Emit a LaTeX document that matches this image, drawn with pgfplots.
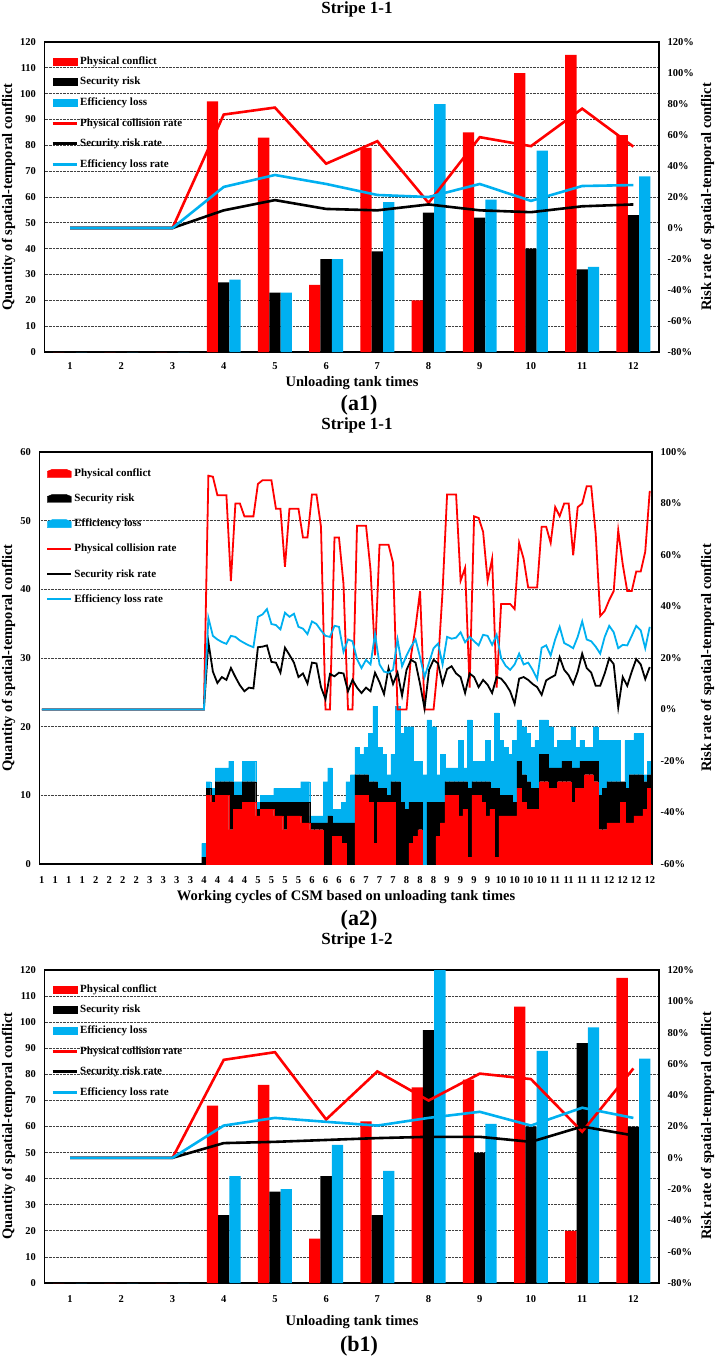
\documentclass[border=0pt]{standalone}
\usepackage{pgfplots}
\pgfplotsset{compat=1.18}
\usepackage{pgfplotstable}
\usepackage{fontspec}
\setmainfont{Liberation Serif}

\definecolor{confRed}{HTML}{FF0000}
\definecolor{lossBlue}{HTML}{00B0F0}

\newcommand{\tickfont}{\fontsize{10.5bp}{12bp}\selectfont\bfseries}
\newcommand{\legfont}{\fontsize{11bp}{13bp}\selectfont\bfseries}
\newcommand{\labfont}{\fontsize{14.5bp}{16bp}\selectfont\bfseries}
\newcommand{\titfont}{\fontsize{17bp}{19bp}\selectfont\bfseries}
\newcommand{\tagfont}{\fontsize{22bp}{24bp}\selectfont\bfseries}

% Stripe 1-1, per unloading tank: counts and rates (%)
\pgfplotstableread{
t  phys sec eff pr    sr    er
1  0    0   0   0     0     0
2  0    0   0   0     0     0
3  0    0   0   0     0     0
4  97   27  28  73.2  11.4  26.5
5  83   23  23  77.7  18.0  34.2
6  26   36  36  41.5  12.3  28.4
7  79   39  58  56.0  11.4  21.3
8  20   54  96  16.2  15.2  20.0
9  85   52  59  58.6  11.4  28.4
10 108  40  78  52.8  10.2  17.5
11 115  32  33  77.0  14.0  27.1
12 84   53  68  52.5  15.2  27.7
}\stripeAtank

% Stripe 1-2, per unloading tank: counts and rates (%)
\pgfplotstableread{
t  phys sec eff pr    sr    er
1  0    0   0   0     0     0
2  0    0   0   0     0     0
3  0    0   0   0     0     0
4  68   26  41  62.6  9.4   20.6
5  76   35  36  67.5  10.2  25.5
6  17   41  53  24.5  11.4  23.0
7  62   26  43  55.2  12.6  20.6
8  75   97  120 36.6  13.4  25.5
9  78   50  61  53.8  13.4  29.4
10 106  60  89  50.3  10.2  20.6
11 20   92  98  16.7  20.0  32.0
12 117  60  86  57.1  14.3  25.5
}\stripeBtank

% Stripe 1-1, per working cycle of the CSM: counts and rates (%)
\pgfplotstableread{
c   phys sec eff pr   sr   er
0   0  0  0  0    0    0
1   0  0  0  0    0    0
2   0  0  0  0    0    0
3   0  0  0  0    0    0
4   0  0  0  0    0    0
5   0  0  0  0    0    0
6   0  0  0  0    0    0
7   0  0  0  0    0    0
8   0  0  0  0    0    0
9   0  0  0  0    0    0
10  0  0  0  0    0    0
11  0  0  0  0    0    0
12  0  0  0  0    0    0
13  0  0  0  0    0    0
14  0  0  0  0    0    0
15  0  0  0  0    0    0
16  0  0  0  0    0    0
17  0  0  0  0    0    0
18  0  0  0  0    0    0
19  0  0  0  0    0    0
20  0  0  0  0    0    0
21  0  0  0  0    0    0
22  0  0  0  0    0    0
23  0  0  0  0    0    0
24  0  0  0  0    0    0
25  0  0  0  0    0    0
26  0  0  0  0    0    0
27  0  0  0  0    0    0
28  0  0  0  0    0    0
29  0  0  0  0    0    0
30  0  0  0  0    0    0
31  0  0  0  0    0    0
32  0  0  0  0    0    0
33  0  0  0  0    0    0
34  0  0  0  0    0    0
35  0  0  0  0    0    0
36  0  1  2  0    0    0
37  10 1  1  90.8 26.2 35.6
38  9  1  1  90.4 14.7 28.6
39  10 2  2  83.2 10.3 27.2
40  10 2  2  83.2 12.6 26.2
41  10 2  2  83.2 11.5 25.5
42  5  7  3  49.9 16.1 28.6
43  8  2  2  80.0 12.6 28.2
44  8  2  2  80.0 9.4  26.8
45  9  3  3  75.0 7.1  25.8
46  9  3  3  75.0 8.5  24.9
47  9  3  3  75.0 8.2  24.2
48  7  1  1  87.6 24.2 36.0
49  8  1  1  89.0 24.4 36.9
50  8  1  1  89.0 24.9 39.0
51  8  1  1  89.0 18.5 33.2
52  7  2  2  78.0 18.2 32.8
53  7  2  2  78.0 14.3 31.1
54  5  4  2  55.4 24.0 37.6
55  7  2  2  78.0 21.2 36.0
56  7  2  2  78.0 18.2 37.2
57  7  2  2  78.0 12.6 32.1
58  6  3  3  66.8 14.0 31.4
59  6  3  3  66.8 10.1 29.3
60  5  1  1  83.5 18.2 34.2
61  5  1  1  83.5 17.9 33.2
62  5  1  1  71.0 8.7  30.7
63  0  6  6  0    4.0  28.6
64  0  7  7  0    13.8 28.2
65  4  2  2  66.8 12.9 32.5
66  4  2  2  66.8 14.3 32.1
67  3  3  3  48.8 14.0 22.4
68  0  6  6  0    7.1  27.2
69  0  6  7  0    11.5 26.5
70  10 3  4  71.4 8.5  19.6
71  10 3  3  71.4 6.4  16.1
72  10 3  4  71.4 8.5  19.3
73  9  3  7  54.3 7.1  17.5
74  3  9  11 21.0 14.3 29.3
75  9  2  6  64.0 10.6 17.5
76  9  2  5  64.0 6.0  14.7
77  9  1  3  64.0 16.1 14.3
78  9  3  4  57.0 9.9  15.4
79  0  12 11 0    14.3 27.2
80  0  9  10 0    5.4  16.8
81  0  8  12 0    15.4 21.0
82  3  6  11 21.0 19.3 24.4
83  4  5  6  32.0 18.2 27.2
84  5  4  6  46.0 9.9  20.3
85  0  0  13 0    0.4  12.6
86  0  9  12 0    15.4 18.2
87  0  9  11 0    19.3 23.8
88  4  5  4  18.0 17.9 25.6
89  6  3  7  46.0 9.9  17.5
90  10 2  2  83.5 15.7 28.2
91  10 2  2  83.5 16.8 27.5
92  10 2  2  83.5 14.0 27.9
93  7  5  6  50.0 12.6 30.0
94  8  4  2  55.0 6.4  26.1
95  1  10 10 8.5  14.0 28.2
96  10 2  3  75.0 12.6 26.5
97  10 2  3  74.4 8.7  24.9
98  9  3  3  69.0 11.5 29.0
99  7  5  6  50.0 9.6  28.6
100 8  3  4  58.5 6.4  25.1
101 1  10 11 8.5  12.6 29.0
102 7  3  8  41.0 12.0 20.0
103 7  3  7  41.0 9.9  17.0
104 7  3  6  41.0 7.1  15.4
105 7  2  9  39.0 2.2  17.5
106 11 4  6  64.7 12.0 21.7
107 9  4  7  58.5 12.6 17.5
108 8  4  7  47.4 11.5 18.2
109 8  3  6  47.4 9.9  15.4
110 8  3  7  47.4 8.7  11.9
111 12 4  5  71.0 5.7  24.0
112 12 4  5  71.0 11.3 24.9
113 11 3  6  64.7 12.4 21.0
114 11 3  3  78.6 13.3 27.2
115 12 2  4  75.1 20.3 32.1
116 12 3  3  80.0 15.4 25.8
117 12 3  3  80.0 13.3 24.9
118 9  5  6  59.9 9.9  23.8
119 11 3  3  78.6 14.7 28.2
120 11 4  3  80.0 21.7 34.2
121 13 2  2  86.7 16.1 27.2
122 13 2  2  86.7 14.3 26.5
123 12 3  5  68.2 9.2  24.4
124 5  5  8  36.3 9.2  21.7
125 5  6  7  38.3 14.0 28.2
126 6  6  6  42.5 19.9 32.5
127 6  6  6  46.0 17.6 30.0
128 6  6  6  69.6 0.8  23.8
129 9  3  0  56.4 12.6 25.1
130 6  5  7  46.0 9.2  24.9
131 6  7  5  46.0 14.7 28.6
132 7  6  6  53.6 19.6 32.5
133 7  6  6  53.6 17.5 30.7
134 8  4  1  61.3 11.8 23.8
135 11 2  2  84.9 16.5 32.1
}\stripeAcycle

\pgfplotsset{
  basepanel/.style={
    scale only axis,
    axis line style={line width=1.5bp},
    major tick length=0pt,
    tick style={draw=none},
    tick label style={font=\tickfont},
    /pgf/number format/assume math mode=true,
  },
  countpanel/.style={
    basepanel,
    ymajorgrids,
    grid style={densely dotted, black!75, line width=0.7bp},
    yticklabel pos=left,
    xticklabel style={yshift=-7bp},
    yticklabel style={xshift=-5bp},
  },
  ratepanel/.style={
    basepanel,
    axis x line=none,
    axis y line*=right,
    yticklabel={\pgfmathprintnumber{\tick}\%},
    yticklabel style={anchor=west, xshift=5bp},
    legend cell align=left,
    legend image code/.code={\draw[##1, line width=\keyline] (0bp,0bp) -- (24bp,0bp);},
    legend style={draw=none, fill=none, font=\legfont, row sep=7.4bp,
      at={(axis description cs:0,1)}, anchor=north west,
      xshift=6.5bp, yshift=-12.5bp, inner sep=0pt},
  },
  barkey/.style={legend image code/.code={\fill[#1] (0bp,-3.5bp) rectangle (24bp,3.5bp);}},
  areakey/.style={legend image code/.code={\fill[#1] (0bp,-4bp) -- (0bp,2bp) -- (5bp,4bp) -- (19bp,4bp) -- (24bp,2bp) -- (24bp,-4bp) -- cycle;}},
}
\newcommand{\keyline}{3bp}

\begin{document}
\begin{tikzpicture}
\path[use as bounding box] (0bp,0bp) rectangle (716bp,-1371bp);

% ---------------- (a1) ----------------
\begin{axis}[countpanel, at={(44.5bp,-42bp)}, anchor=north west,
  width=614.5bp, height=310bp,
  ybar=0pt, bar width=11.3bp,
  xmin=0.5, xmax=12.5, xtick={1,...,12},
  ymin=0, ymax=120, ytick={0,10,...,120}]
  \addplot[fill=confRed, draw=none] table[x=t, y=phys] {\stripeAtank};
  \addplot[fill=black, draw=none] table[x=t, y=sec] {\stripeAtank};
  \addplot[fill=lossBlue, draw=none] table[x=t, y=eff] {\stripeAtank};
\end{axis}
\begin{axis}[ratepanel, at={(44.5bp,-42bp)}, anchor=north west,
  width=614.5bp, height=310bp,
  xmin=0.5, xmax=12.5,
  ymin=-80, ymax=120, ytick={-80,-60,...,120}]
  \addlegendimage{barkey=confRed}\addlegendentry{Physical conflict}
  \addlegendimage{barkey=black}\addlegendentry{Security risk}
  \addlegendimage{barkey=lossBlue}\addlegendentry{Efficiency loss}
  \addplot[confRed, line width=2.6bp] table[x=t, y=pr] {\stripeAtank};
  \addlegendentry{Physical collision rate}
  \addplot[black, line width=2.6bp] table[x=t, y=sr] {\stripeAtank};
  \addlegendentry{Security risk rate}
  \addplot[lossBlue, line width=2.6bp] table[x=t, y=er] {\stripeAtank};
  \addlegendentry{Efficiency loss rate}
\end{axis}
\node[font=\titfont] at (357bp,-9bp) {Stripe 1-1};
\node[font=\labfont] at (352bp,-383bp) {Unloading tank times};
\node[font=\tagfont] at (359bp,-405bp) {(a1)};
\node[font=\labfont, rotate=90] at (8.5bp,-197bp) {Quantity of spatial-temporal conflict};
\node[font=\labfont, rotate=90] at (707.5bp,-197bp) {Risk rate of spatial-temporal conflict};

% ---------------- (a2) ----------------
\begin{axis}[countpanel, at={(39.5bp,-452bp)}, anchor=north west,
  width=612.5bp, height=412bp,
  ybar stacked, bar width=1,
  xmin=-0.5, xmax=135.5, xtick={0,3,...,135},
  xticklabel style={yshift=-2bp},
  xticklabels={1,1,1,1,2,2,2,2,3,3,3,3,4,4,4,4,5,5,5,5,6,6,6,6,7,7,7,8,8,8,9,9,9,9,10,10,10,10,11,11,11,11,12,12,12,12},
  ymin=0, ymax=60, ytick={0,10,...,60}]
  \addplot[fill=confRed, draw=confRed, line width=0.2bp] table[x=c, y=phys] {\stripeAcycle};
  \addplot[fill=black, draw=black, line width=0.2bp] table[x=c, y=sec] {\stripeAcycle};
  \addplot[fill=lossBlue, draw=lossBlue, line width=0.2bp] table[x=c, y=eff] {\stripeAcycle};
\end{axis}
\renewcommand{\keyline}{2.2bp}
\begin{axis}[ratepanel, at={(39.5bp,-452bp)}, anchor=north west,
  width=612.5bp, height=412bp,
  xmin=-0.5, xmax=135.5,
  ymin=-60, ymax=100, ytick={-60,-40,...,100},
  legend style={row sep=12bp, yshift=-2bp}]
  \addlegendimage{areakey=confRed}\addlegendentry{Physical conflict}
  \addlegendimage{areakey=black}\addlegendentry{Security risk}
  \addlegendimage{areakey=lossBlue}\addlegendentry{Efficiency loss}
  \addplot[confRed, line width=1.8bp] table[x=c, y=pr] {\stripeAcycle};
  \addlegendentry{Physical collision rate}
  \addplot[black, line width=1.8bp] table[x=c, y=sr] {\stripeAcycle};
  \addlegendentry{Security risk rate}
  \addplot[lossBlue, line width=1.8bp] table[x=c, y=er] {\stripeAcycle};
  \addlegendentry{Efficiency loss rate}
\end{axis}
\renewcommand{\keyline}{3bp}
\node[font=\titfont] at (357bp,-425bp) {Stripe 1-1};
\node[font=\labfont] at (346bp,-897bp) {Working cycles of CSM based on unloading tank times};
\node[font=\tagfont] at (359bp,-920bp) {(a2)};
\node[font=\labfont, rotate=90] at (8.5bp,-658bp) {Quantity of spatial-temporal conflict};
\node[font=\labfont, rotate=90] at (707.5bp,-658bp) {Risk rate of spatial-temporal conflict};

% ---------------- (b1) ----------------
\begin{axis}[countpanel, at={(44.5bp,-970bp)}, anchor=north west,
  width=614.5bp, height=313bp,
  ybar=0pt, bar width=11.3bp,
  xmin=0.5, xmax=12.5, xtick={1,...,12},
  xticklabel style={yshift=-2bp},
  ymin=0, ymax=120, ytick={0,10,...,120}]
  \addplot[fill=confRed, draw=none] table[x=t, y=phys] {\stripeBtank};
  \addplot[fill=black, draw=none] table[x=t, y=sec] {\stripeBtank};
  \addplot[fill=lossBlue, draw=none] table[x=t, y=eff] {\stripeBtank};
\end{axis}
\begin{axis}[ratepanel, at={(44.5bp,-970bp)}, anchor=north west,
  width=614.5bp, height=313bp,
  xmin=0.5, xmax=12.5,
  ymin=-80, ymax=120, ytick={-80,-60,...,120}]
  \addlegendimage{barkey=confRed}\addlegendentry{Physical conflict}
  \addlegendimage{barkey=black}\addlegendentry{Security risk}
  \addlegendimage{barkey=lossBlue}\addlegendentry{Efficiency loss}
  \addplot[confRed, line width=2.6bp] table[x=t, y=pr] {\stripeBtank};
  \addlegendentry{Physical collision rate}
  \addplot[black, line width=2.6bp] table[x=t, y=sr] {\stripeBtank};
  \addlegendentry{Security risk rate}
  \addplot[lossBlue, line width=2.6bp] table[x=t, y=er] {\stripeBtank};
  \addlegendentry{Efficiency loss rate}
\end{axis}
\node[font=\titfont] at (357bp,-940bp) {Stripe 1-2};
\node[font=\labfont] at (352bp,-1322bp) {Unloading tank times};
\node[font=\tagfont] at (359bp,-1346bp) {(b1)};
\node[font=\labfont, rotate=90] at (8.5bp,-1126bp) {Quantity of spatial-temporal conflict};
\node[font=\labfont, rotate=90] at (707.5bp,-1126bp) {Risk rate of spatial-temporal conflict};
\end{tikzpicture}
\end{document}
